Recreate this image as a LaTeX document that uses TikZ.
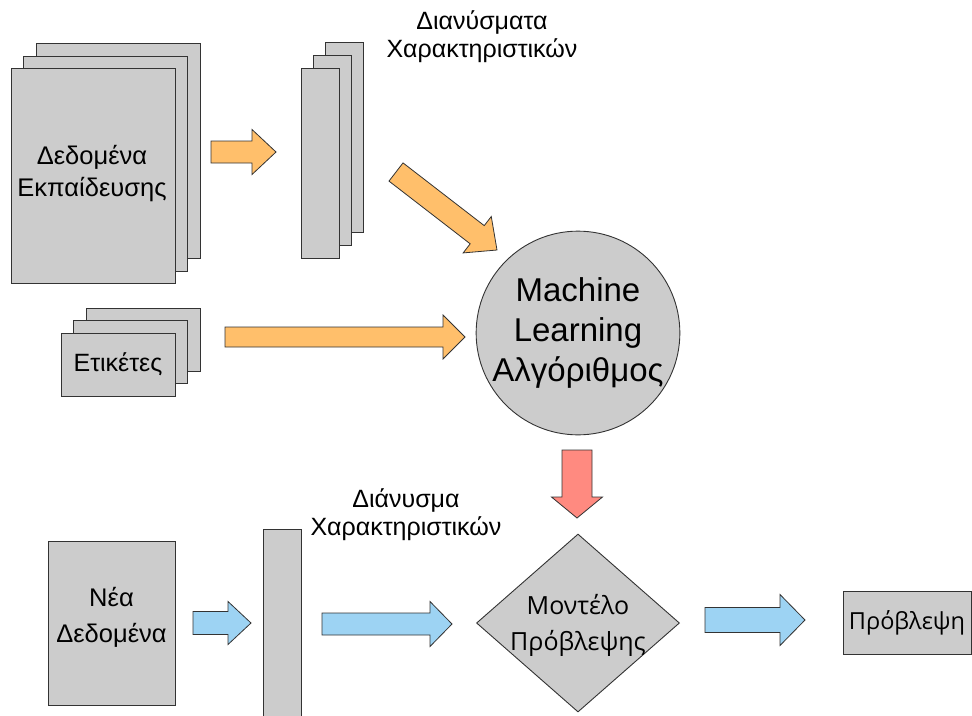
\documentclass[tikz,border=0pt]{standalone}
\usepackage{fontspec}
\setmainfont{Liberation Sans}
\newfontfamily\osans{Open Sans}
\usetikzlibrary{calc,shapes.geometric}
\definecolor{sheetgray}{HTML}{CCCCCC}
\definecolor{arrorange}{HTML}{FFBF6B}
\definecolor{arrred}{HTML}{FF8A80}
\definecolor{arrblue}{HTML}{9DD3F3}
\definecolor{edge}{HTML}{333333}
\tikzset{
  sheet/.style={draw=edge, line width=0.9pt, fill=sheetgray, inner sep=0pt, align=center},
  blockarrow/.style={draw=edge, line width=0.8pt, line join=miter},
  lbl/.style={align=center, inner sep=0pt, font=\fontsize{25}{28}\selectfont}
}
\newcommand\blkarrow[6]{%
  \coordinate (#1-hb) at ($(#2)!#5!(#1)$);
  \draw[blockarrow, fill=#6]
    ($(#1)!#3!-90:(#2)$) -- ($(#1-hb)!#3!-90:(#2)$) -- ($(#1-hb)!#4!-90:(#2)$)
    -- (#2) -- ($(#1-hb)!#4!90:(#2)$) -- ($(#1-hb)!#3!90:(#2)$)
    -- ($(#1)!#3!90:(#2)$) -- cycle;
}
\begin{document}
\begin{tikzpicture}[x=1pt,y=-1pt]
\useasboundingbox (0,0) rectangle (972,715);

% training data stack
\node[sheet, minimum width=164, minimum height=215] (tr3) at (118,151) {};
\node[sheet, minimum width=164, minimum height=215] (tr2) at (105.5,163.5) {};
\node[sheet, minimum width=164, minimum height=215] (tr1) at (93,176) {};
\node[align=center, inner sep=0pt, font=\fontsize{25.5}{32}\selectfont] (tr1t) at (92,174) {Δεδομένα\\Εκπαίδευσης};

% feature vectors stack
\node[sheet, minimum width=38, minimum height=190] (fv3) at (344.5,137.5) {};
\node[sheet, minimum width=38, minimum height=190] (fv2) at (332,150.5) {};
\node[sheet, minimum width=38, minimum height=190] (fv1) at (320,163) {};
\node[lbl] (fvl) at (482,37) {Διανύσματα\\Χαρακτηριστικών};

% labels stack
\node[sheet, minimum width=114, minimum height=63] (et3) at (143,339.5) {};
\node[sheet, minimum width=114, minimum height=63] (et2) at (130.5,351.5) {};
\node[sheet, minimum width=114, minimum height=63, font=\fontsize{25}{28}\selectfont] (et1) at (118,364.5) {Ετικέτες};

% ML algorithm
\node[sheet, circle, minimum size=202, font=\fontsize{33}{40}\selectfont] (ml) at (578,333) {Machine\\Learning\\Αλγόριθμος};

% bottom row
\node[sheet, minimum width=127, minimum height=164] (new) at (111.5,623) {};
\node[align=center, inner sep=0pt, font=\fontsize{25.5}{36}\selectfont] (newt) at (111.5,617) {Νέα\\Δεδομένα};
\node[sheet, minimum width=38, minimum height=200] (bar) at (282,629) {};
\node[lbl] (barl) at (406,515) {Διάνυσμα\\Χαρακτηριστικών};
\node[sheet, diamond, minimum width=203, minimum height=178] (mod) at (578,623) {};
\node[align=center, inner sep=0pt, font=\osans\fontsize{25}{36}\selectfont] (modt) at (578,625) {Μοντέλο\\Πρόβλεψης};
\node[sheet, minimum width=128, minimum height=63, font=\osans\fontsize{23.5}{26}\selectfont] (pred) at (907,622.5) {Πρόβλεψη};

% arrow end points
\coordinate (a1s) at (211,152);  \coordinate (a1e) at (276,152);
\coordinate (a2s) at (396,172);  \coordinate (a2e) at (497,250);
\coordinate (a3s) at (225,337);  \coordinate (a3e) at (465,337);
\coordinate (a4s) at (577,450);  \coordinate (a4e) at (577,518);
\coordinate (b1s) at (193,623);  \coordinate (b1e) at (251,623);
\coordinate (b2s) at (322,624);  \coordinate (b2e) at (452,624);
\coordinate (b3s) at (705,620);  \coordinate (b3e) at (805,620);

\blkarrow{a1s}{a1e}{11pt}{22.5pt}{24pt}{arrorange}
\blkarrow{a2s}{a2e}{11.5pt}{23pt}{25pt}{arrorange}
\blkarrow{a3s}{a3e}{10pt}{22pt}{22pt}{arrorange}
\blkarrow{a4s}{a4e}{15pt}{25.5pt}{21pt}{arrred}
\blkarrow{b1s}{b1e}{11.5pt}{21.5pt}{23pt}{arrblue}
\blkarrow{b2s}{b2e}{11pt}{22.5pt}{22pt}{arrblue}
\blkarrow{b3s}{b3e}{12.5pt}{25.5pt}{25pt}{arrblue}
\end{tikzpicture}
\end{document}
